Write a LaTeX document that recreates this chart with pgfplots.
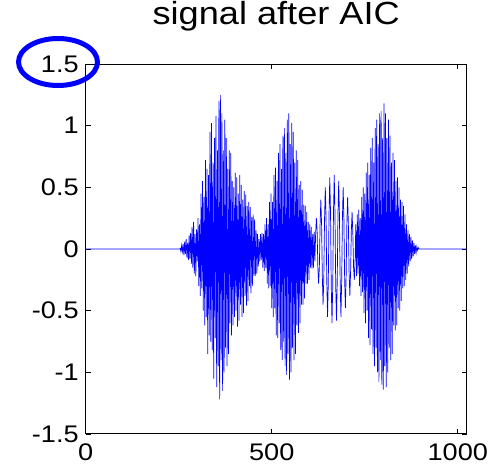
\documentclass[border=0pt]{standalone}
\usepackage{fontspec}
\setmainfont{Liberation Sans}
\usepackage{pgfplots}
\pgfplotsset{compat=1.18}
\newcommand{\sx}[1]{\scalebox{1.13}[1]{#1}}
\begin{document}
\begin{tikzpicture}
\useasboundingbox (-42.85pt,-17pt) rectangle (204.65pt,217pt);
\begin{axis}[
 at={(0,0)}, anchor=south west,
 scale only axis, width=190.5pt, height=185pt,
 xmin=0, xmax=1024, ymin=-1.5, ymax=1.5,
 xtick={0,500,1000}, xticklabels={\sx{0},\sx{500},\sx{1000}},
 ytick={-1.5,-1,-0.5,0,0.5,1,1.5},
 yticklabels={\sx{-1.5},\sx{-1},\sx{-0.5},\sx{0},\sx{0.5},\sx{1},\sx{1.5}},
 tick align=inside, tick pos=both, major tick length=2.5pt,
 tick style={black, line width=0.4pt},
 axis line style={line width=0.5pt},
 ticklabel style={font=\fontsize{12}{14}\selectfont},
 xticklabel style={yshift=-1.5pt},
 title={\sx{signal after AIC}},
 title style={font=\fontsize{16}{19}\selectfont, anchor=base, yshift=14pt},
 clip=false,
]
\addplot[blue, line width=0.35pt] coordinates {
(0,0)(254,0)
(254,0.01)(256,-0.02)(258,0.03)(260,-0.02)(262,0.04)(264,-0.05)(266,0.06)(268,-0.04)(270,0.08)(272,-0.07)(274,0.05)(276,-0.09)(278,0.11)(280,-0.08)(282,0.13)(284,-0.12)(286,0.18)(288,-0.15)(290,0.22)(292,-0.2)(294,0.12)(296,-0.22)(298,0.16)(300,-0.1)
(302,0.25)(304,-0.3)(306,0.2)(308,-0.38)(310,0.45)(312,-0.32)(314,0.55)(316,-0.5)(318,0.42)(320,-0.62)(322,0.72)(324,-0.55)(326,0.65)(328,-0.85)(330,0.6)(332,-0.7)(334,0.95)(336,-0.75)(338,1.02)(340,-0.82)(342,0.7)(344,-1.05)(346,0.9)(348,-0.72)(350,1.08)(352,-1.12)(354,0.8)(356,-0.95)(358,1.2)(360,-1.22)(362,1.25)(364,-0.9)(366,1.1)(368,-1.15)(370,0.8)(372,-1.0)(374,1.05)(376,-0.8)(378,0.9)(380,-0.95)(382,0.65)(384,-0.85)(386,0.8)(388,-0.6)(390,0.78)(392,-0.7)(394,0.55)(396,-0.62)(398,0.5)(400,-0.55)
(402,0.62)(404,-0.5)(406,0.58)(408,-0.63)(410,0.45)(412,-0.58)(414,0.6)(416,-0.45)(418,0.52)(420,-0.55)(422,0.4)(424,-0.52)(426,0.47)(428,-0.38)(430,0.44)(432,-0.46)(434,0.35)(436,-0.42)(438,0.38)(440,-0.3)(442,0.34)(444,-0.36)(446,0.26)(448,-0.3)(450,0.28)(452,-0.22)(454,0.24)(456,-0.22)(458,0.15)(460,-0.2)(462,0.12)(464,-0.14)(466,0.08)(468,-0.1)(470,0.12)(472,-0.09)(474,0.13)(476,-0.15)(478,0.12)(480,-0.18)
(482,0.2)(484,-0.15)(486,0.25)(488,-0.28)(490,0.2)(492,-0.32)(494,0.38)(496,-0.3)(498,0.45)(500,-0.48)(502,0.38)(504,-0.55)(506,0.6)(508,-0.48)(510,0.66)(512,-0.7)(514,0.55)(516,-0.72)(518,0.78)(520,-0.6)(522,0.85)(524,-0.82)(526,0.65)(528,-0.9)(530,0.92)(532,-0.75)(534,0.98)(536,-0.95)(538,0.78)(540,-1.02)(542,1.05)(544,-0.85)(546,1.1)(548,-1.06)(550,0.85)(552,-1.0)(554,1.02)(556,-0.8)(558,0.95)(560,-0.9)(562,0.7)(564,-0.85)(566,0.8)(568,-0.62)(570,0.72)(572,-0.68)(574,0.52)(576,-0.6)(578,0.55)(580,-0.45)(582,0.48)(584,-0.45)(586,0.36)(588,-0.4)(590,0.35)(592,-0.28)(594,0.3)(596,-0.28)(598,0.22)(600,-0.25)(602,0.2)(604,-0.15)(606,0.18)(608,-0.16)(610,0.12)(612,-0.15)(614,0.14)(616,-0.1)
(618,0.12)(620,0.25)(622,0.15)(624,-0.15)(626,-0.28)(628,-0.15)
(630,0.2)(632,0.4)(634,0.2)(636,-0.22)(638,-0.45)(640,-0.23)
(642,0.25)(644,0.5)(646,0.26)(648,-0.27)(650,-0.55)(652,-0.28)
(654,0.28)(656,0.58)(658,0.3)(660,-0.3)(662,-0.6)(664,-0.29)
(666,0.3)(668,0.6)(670,0.29)(672,-0.3)(674,-0.58)(676,-0.28)
(678,0.27)(680,0.55)(682,0.28)(684,-0.28)(686,-0.55)(688,-0.26)
(690,0.25)(692,0.5)(694,0.24)(696,-0.25)(698,-0.48)(700,-0.22)
(702,0.22)(704,0.42)(706,0.2)(708,-0.2)(710,-0.38)(712,-0.18)
(714,0.15)(716,0.3)(718,0.12)(720,-0.15)(722,-0.25)(724,-0.1)
(726,0.2)(728,-0.22)(730,0.28)(732,-0.2)(734,0.32)(736,-0.3)(738,0.25)(740,-0.38)(742,0.42)(744,-0.35)(746,0.5)(748,-0.52)(750,0.45)(752,-0.6)(754,0.62)(756,-0.5)(758,0.7)(760,-0.72)(762,0.6)(764,-0.78)(766,0.82)(768,-0.65)(770,0.9)(772,-0.85)(774,0.7)(776,-0.95)(778,0.98)(780,-0.8)(782,1.05)(784,-1.0)(786,0.85)(788,-1.08)(790,1.1)(792,-0.9)(794,1.12)(796,-1.1)(798,0.9)(800,-1.14)(802,1.18)(804,-0.95)(806,1.1)(808,-1.12)(810,0.9)(812,-1.0)(814,1.05)(816,-0.8)(818,0.92)(820,-0.9)(822,0.7)(824,-0.85)(826,0.78)(828,-0.62)(830,0.72)(832,-0.66)(834,0.55)(836,-0.62)(838,0.58)(840,-0.48)(842,0.5)(844,-0.5)(846,0.4)(848,-0.42)(850,0.38)(852,-0.32)(854,0.35)(856,-0.3)
(858,0.28)(860,-0.25)(862,0.2)(864,-0.2)(866,0.15)(868,-0.14)(870,0.12)(872,-0.1)(874,0.1)(876,-0.08)(878,0.07)(880,-0.06)(882,0.05)(884,-0.04)(886,0.03)(888,-0.03)(890,0.02)(892,-0.01)(894,0.01)(896,0)(1024,0)
};
\end{axis}
\draw[blue, line width=2.5pt] (-13.85pt,186pt) ellipse [x radius=19.75pt, y radius=11.75pt];
\end{tikzpicture}
\end{document}
